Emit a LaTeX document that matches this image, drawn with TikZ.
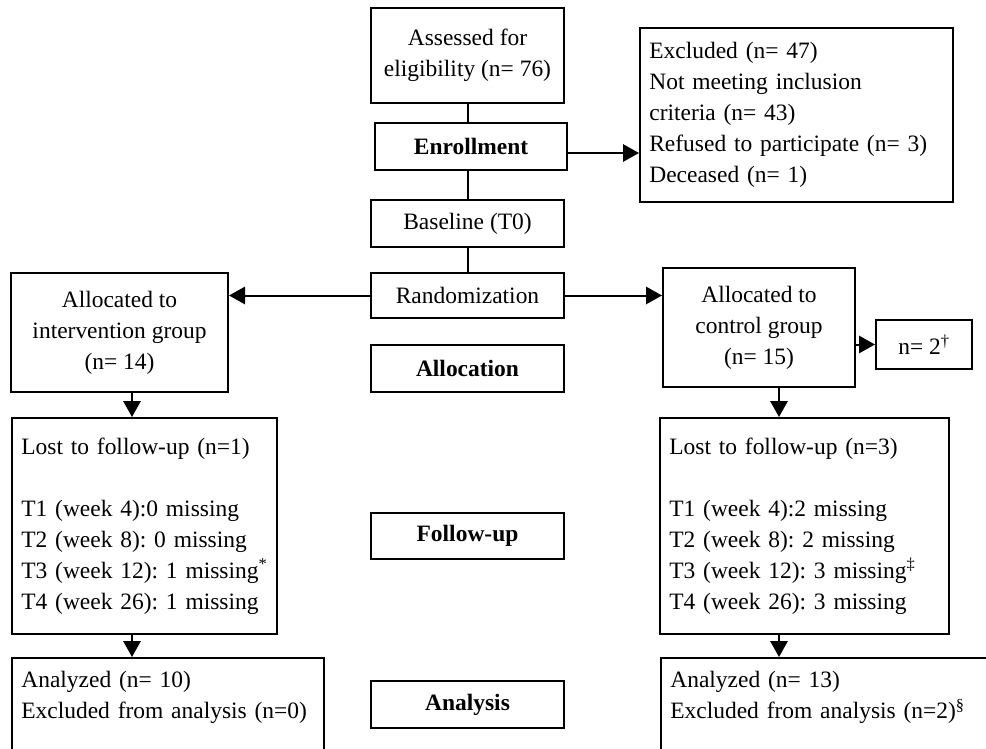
\documentclass[tikz,border=0pt]{standalone}
\usepackage{fontspec}
\setmainfont{Liberation Serif}
\usetikzlibrary{arrows.meta}
\frenchspacing

\begin{document}
\begin{tikzpicture}[x=.75pt,y=-.75pt,
  box/.style={draw,line width=1.5pt,font=\fontsize{17.6}{23.25}\selectfont,align=center,inner sep=0pt},
  lbox/.style={box,align=left,anchor=north west,inner xsep=7pt,inner ysep=10pt},
  bbox/.style={box,font=\fontsize{17.6}{23.25}\selectfont\bfseries},
  arr/.style={line width=1.5pt,-{Triangle[length=12pt,width=13pt]}}]
\useasboundingbox (0,0) rectangle (986,749);
\clip (0,0) rectangle (986,749);
% centre column
\node[box,minimum width=144.75pt,minimum height=71.25pt] (assess) at (467.5,55.5) {Assessed for\\eligibility (n= 76)};
\node[bbox,minimum width=144pt,minimum height=35.25pt] (enroll) at (471,146.5) {Enrollment};
\node[box,minimum width=144.75pt,minimum height=35.25pt] (base) at (467.5,223.5) {Baseline (T0)};
\node[box,minimum width=144.75pt,minimum height=33.75pt] (rand) at (467.5,295.5) {Randomization};
\node[bbox,minimum width=144.75pt,minimum height=35.25pt] (alloc) at (467.5,368.5) {Allocation};
\node[bbox,minimum width=144.75pt,minimum height=34.5pt] (follow) at (467.5,536) {Follow-up};
\node[bbox,minimum width=144.75pt,minimum height=35.25pt] (analys) at (467.5,704.5) {Analysis};
% excluded
\node[lbox,text width=220.75pt,minimum height=130.5pt,inner ysep=0pt] (excl) at (639,27) {Excluded (n= 47)\\Not meeting inclusion\\criteria (n= 43)\\Refused to participate (n= 3)\\Deceased (n= 1)};
% allocated groups
\node[box,minimum width=162.75pt,minimum height=89.25pt] (interv) at (119.5,332.5) {Allocated to\\intervention group\\(n= 14)};
\node[box,minimum width=144pt,minimum height=89.25pt] (ctrl) at (759,327.5) {Allocated to\\control group\\(n= 15)};
\node[box,minimum width=72pt,minimum height=36.75pt] (ntwo) at (924,344.5) {n= 2\textsuperscript{†}};
% follow-up
\node[lbox,text width=184.75pt,minimum height=162pt,inner ysep=0pt] (lostL) at (11,417) {Lost to follow-up (n=1)\\[23.25pt]T1 (week 4):0 missing\\T2 (week 8): 0 missing\\\mbox{T3 (week 12): 1 missing\textsuperscript{*}}\\T4 (week 26): 1 missing};
\node[lbox,text width=202.75pt,minimum height=162pt,inner ysep=0pt] (lostR) at (659,417) {Lost to follow-up (n=3)\\[23.25pt]T1 (week 4):2 missing\\T2 (week 8): 2 missing\\T3 (week 12): 3 missing\textsuperscript{‡}\\T4 (week 26): 3 missing};
% analysis
\node[lbox,text width=220pt] (anaL) at (11,657) {Analyzed (n= 10)\\\mbox{Excluded from analysis (n=0)}\\~};
\node[lbox,text width=286pt] (anaR) at (660,657) {Analyzed (n= 13)\\Excluded from analysis (n=2)\textsuperscript{§}\\~};
% connectors
\coordinate (colL) at (132,0);
\coordinate (colR) at (779,0);
\coordinate (e1) at (567,153);
\draw[line width=1.5pt] (assess.south) -- (assess.south |- enroll.north) (assess.south |- enroll.south) -- (base.north) (base.south) -- (rand.north);
\draw[arr] (e1) -- (e1 -| excl.west);
\draw[arr] (rand.west) -- (rand.west -| interv.east);
\draw[arr] (rand.east) -- (rand.east -| ctrl.west);
\draw[arr] (ntwo.west -| ctrl.east) -- (ntwo.west);
\draw[arr] (interv.south -| colL) -- (lostL.north -| colL);
\draw[arr] (lostL.south -| colL) -- (anaL.north -| colL);
\draw[arr] (ctrl.south -| colR) -- (lostR.north -| colR);
\draw[arr] (lostR.south -| colR) -- (anaR.north -| colR);
\end{tikzpicture}
\end{document}
